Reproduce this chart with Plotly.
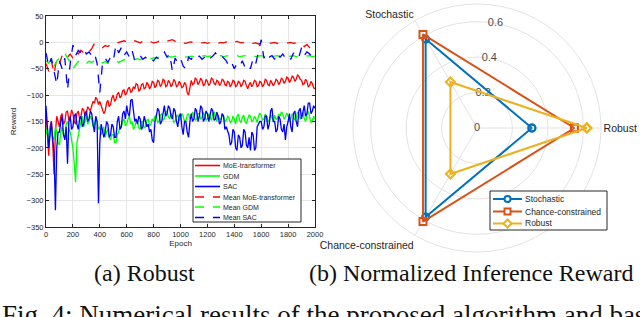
import plotly.graph_objects as go

# ---------------- data: left chart (Robust) ----------------
epochs_fine = list(range(0, 2001, 10))   # raw curves
epochs_mean = list(range(0, 2001, 20))   # mean curves

moe = [-130, -175, -215, -160, -150, -190, -250, -170, -140, -150,
       -160, -140, -135, -155, -150, -132, -130, -148, -145, -128,
       -135, -150, -155, -135, -130, -145, -140, -125, -128, -140,
       -135, -122, -125, -130, -120, -112, -115, -104, -108, -118,
       -112, -120, -125, -135, -130, -115, -110, -122, -118, -105,
       -100, -112, -108, -98, -95, -105, -102, -92, -90, -100,
       -96, -88, -85, -95, -92, -84, -88, -78, -80, -92,
       -90, -80, -78, -88, -86, -76, -80, -88, -84, -74,
       -76, -86, -82, -72, -74, -84, -80, -70, -72, -84,
       -82, -72, -76, -84, -80, -70, -74, -84, -82, -74,
       -78, -86, -84, -76, -80, -95, -100, -82, -72, -80,
       -78, -68, -70, -80, -76, -68, -72, -82, -80, -70,
       -74, -82, -78, -68, -70, -78, -80, -72, -74, -82,
       -78, -70, -72, -80, -82, -74, -76, -84, -80, -72,
       -74, -84, -82, -74, -76, -84, -80, -72, -74, -82,
       -88, -80, -76, -84, -80, -72, -74, -84, -82, -74,
       -76, -84, -80, -70, -72, -80, -82, -72, -76, -82,
       -78, -70, -72, -80, -76, -68, -70, -78, -74, -66,
       -68, -76, -72, -64, -66, -74, -70, -62, -64, -70,
       -72, -80, -78, -70, -74, -84, -82, -74, -78, -86,
       -88]

gdm = [-175, -160, -190, -170, -165, -180, -185, -160, -170, -190,
       -195, -170, -160, -175, -180, -155, -150, -165, -170, -185,
       -200, -230, -265, -190, -175, -160, -150, -140, -160, -150,
       -140, -155, -150, -140, -145, -160, -155, -145, -150, -165,
       -160, -175, -170, -160, -180, -170, -165, -180, -185, -175,
       -175, -190, -190, -175, -170, -160, -160, -150, -145, -158,
       -155, -145, -140, -155, -150, -165, -160, -150, -150, -162,
       -165, -150, -150, -162, -160, -148, -145, -158, -155, -145,
       -150, -140, -140, -152, -150, -138, -135, -148, -145, -132,
       -130, -142, -145, -135, -140, -152, -150, -140, -138, -148,
       -145, -135, -140, -150, -148, -138, -135, -145, -142, -132,
       -138, -148, -145, -135, -135, -146, -142, -132, -138, -148,
       -145, -135, -140, -148, -135, -132, -142, -150, -138, -146,
       -145, -136, -140, -150, -148, -140, -142, -152, -150, -140,
       -145, -155, -140, -136, -148, -152, -142, -138, -150, -154,
       -145, -138, -140, -150, -148, -140, -145, -152, -140, -134,
       -138, -148, -145, -136, -140, -150, -148, -138, -142, -150,
       -138, -146, -145, -136, -140, -132, -135, -146, -142, -134,
       -140, -150, -145, -136, -138, -148, -142, -132, -136, -146,
       -140, -132, -145, -150, -138, -130, -142, -152, -148, -140,
       -145]

sac = [-120, -165, -200, -175, -150, -185, -210, -318, -200, -170,
       -170, -150, -140, -175, -185, -160, -230, -150, -140, -165,
       -160, -140, -135, -155, -165, -145, -140, -160, -155, -135,
       -130, -150, -145, -130, -135, -155, -170, -140, -150, -305,
       -190, -155, -165, -180, -170, -150, -155, -180, -175, -155,
       -160, -180, -180, -150, -140, -165, -160, -135, -130, -145,
       -120, -135, -140, -110, -108, -130, -150, -145, -155, -140,
       -145, -165, -160, -140, -150, -160, -155, -170, -165, -185,
       -190, -150, -140, -125, -130, -155, -150, -130, -120, -140,
       -135, -120, -125, -140, -145, -125, -130, -150, -160, -140,
       -135, -160, -175, -150, -150, -170, -180, -150, -135, -150,
       -145, -125, -130, -150, -140, -120, -125, -150, -145, -130,
       -135, -150, -140, -125, -130, -148, -145, -132, -140, -155,
       -150, -135, -140, -165, -160, -170, -175, -195, -190, -165,
       -170, -200, -205, -175, -180, -200, -195, -165, -170, -195,
       -200, -180, -205, -170, -175, -205, -200, -160, -155, -150,
       -150, -165, -160, -140, -140, -165, -155, -130, -125, -150,
       -150, -170, -165, -140, -145, -165, -170, -155, -185, -160,
       -150, -135, -160, -170, -135, -130, -150, -160, -130, -125,
       -145, -130, -120, -140, -135, -115, -115, -135, -130, -120,
       -125]

mean_moe = [-40, -55, -35, -60, -30, -40, -25, -20, -28, -22,
            -30, -18, -22, -15, -20, -14, -18, -12, -2, -6,
            -8, -10, -6, -8, -4, -6, -2, 0, 2, 3,
            1, 2, 0, 3, 1, -1, 2, 0, -2, 1,
            -1, 0, 2, 0, 3, 2, 4, 5, 2, 0,
            -3, -1, -2, 0, 1, -1, 0, 1, -1, 0,
            -2, 0, 1, -1, -2, 0, -1, 1, -2, 0,
            1, 2, 0, -1, 1, 2, 0, -2, -1, -3,
            -2, -1, 0, -2, -1, 0, -2, 0, -1, -2,
            -1, 0, -2, -1, 0, -5, -8, -4, -10, -6, -8]

mean_gdm = [-35, -40, -30, -45, -35, -30, -25, -20, -30, -38,
            -50, -42, -36, -38, -35, -40, -36, -38, -35, -40,
            -37, -39, -36, -40, -38, -36, -34, -38, -35, -33,
            -34, -32, -34, -33, -31, -33, -30, -32, -30, -31,
            -29, -30, -28, -29, -27, -28, -27, -28, -26, -28,
            -27, -26, -28, -27, -26, -27, -25, -27, -26, -25,
            -27, -26, -25, -27, -26, -25, -27, -26, -25, -27,
            -26, -25, -27, -26, -25, -27, -26, -25, -27, -26,
            -25, -27, -26, -25, -27, -26, -25, -27, -26, -25,
            -27, -26, -25, -27, -26, -25, -27, -26, -25, -27, -26]

mean_sac = [-20, -45, -30, -55, -80, -35, -50, -30, -90, -40,
            -5, -25, -15, -20, -12, -22, -18, -25, -20, -40,
            -95, -40, -30, -38, -28, -35, -5, -20, -10, -25,
            -18, -28, -15, -35, -30, -25, -32, -28, -35, -30,
            -35, -28, -32, -25, -18, -28, -22, -55, -30, -38,
            -30, -45, -50, -28, -32, -25, -30, -26, -32, -28,
            -22, -30, -26, -20, -28, -24, -30, -35, -45, -38,
            -50, -40, -45, -35, -48, -42, -50, -30, -40, -20,
            5, -30, -20, -28, -25, -32, -20, -28, -22, -30,
            -25, -32, -20, -30, -28, -10, -25, -18, -22, -28, -30]

x_ticks = list(range(0, 2001, 200))
y_ticks = list(range(-350, 51, 50))

line_names = ["MoE-transformer", "GDM", "SAC",
              "Mean MoE-transformer", "Mean GDM", "Mean SAC"]

# ---------------- data: right chart (radar) ----------------
radar_labels = ["Robust", "Stochastic", "Chance-constrained"]
radar_theta = [0, 120, 240]
radar_names = ["Stochastic", "Chance-constrained", "Robust"]
val_stochastic = [0.31, 0.58, 0.58]
val_chance = [0.55, 0.61, 0.61]
val_robust = [0.62, 0.30, 0.30]
r_ticks = [0, 0.2, 0.4, 0.6]
r_tick_text = ["0", "0.2", "0.4", "0.6"]
r_label_angle = 80

# ---------------- helpers (pixel -> paper) ----------------
W, H = 640, 317
def X(px):
    return px / W
def Y(py):
    return 1 - py / H

fig = go.Figure()

line_series = [
    (epochs_fine, moe, "#ff0000", "solid"),
    (epochs_fine, gdm, "#00ff00", "solid"),
    (epochs_fine, sac, "#0000ff", "solid"),
    (epochs_mean, mean_moe, "#ff0000", "dash"),
    (epochs_mean, mean_gdm, "#00ff00", "dash"),
    (epochs_mean, mean_sac, "#0000ff", "dash"),
]
for name, (xs, ys, col, dash) in zip(line_names, line_series):
    fig.add_trace(go.Scatter(x=xs, y=ys, mode="lines", name=name,
                             line=dict(color=col, width=1.3, dash=dash),
                             showlegend=False, xaxis="x", yaxis="y"))

# radial tick labels (drawn through the polar scale, under the data lines)
fig.add_trace(go.Scatterpolar(r=r_ticks, theta=[r_label_angle] * len(r_ticks),
                              mode="text", text=r_tick_text, textposition="middle center",
                              textfont=dict(family="Liberation Sans, Arial", size=11, color="#4d4d4d"),
                              subplot="polar", showlegend=False, hoverinfo="skip"))

radar_colors = ["#0072BD", "#D95319", "#EDB120"]
radar_symbols = ["circle-open", "square-open", "diamond-open"]
for name, vals, col, sym in zip(radar_names, [val_stochastic, val_chance, val_robust],
                                radar_colors, radar_symbols):
    fig.add_trace(go.Scatterpolar(
        r=vals + [vals[0]], theta=radar_theta + [radar_theta[0]],
        mode="lines+markers", name=name, subplot="polar", showlegend=False,
        line=dict(color=col, width=2),
        marker=dict(symbol=sym, size=7, color=col, line=dict(color=col, width=2))))

tick_font = dict(family="Liberation Sans, Arial", size=7.5, color="#262626")

cx, cy, R = 477, 128, 124

fig.update_layout(
    width=W, height=H,
    margin=dict(l=0, r=0, t=0, b=0, autoexpand=False),
    paper_bgcolor="white", plot_bgcolor="white",
    showlegend=False,
    xaxis=dict(domain=[X(46), X(315)], range=[0, 2000], tickvals=x_ticks,
               automargin=False,
               showgrid=True, gridcolor="#e6e6e6", gridwidth=1, zeroline=False,
               showline=True, mirror="ticks", linecolor="#262626", linewidth=1,
               ticks="inside", ticklen=3, tickcolor="#262626", tickfont=tick_font,
               title=dict(text="Epoch", font=dict(family="Liberation Sans, Arial", size=8, color="#262626"),
                          standoff=2)),
    yaxis=dict(domain=[Y(227), Y(16)], range=[-350, 50], tickvals=y_ticks,
               automargin=False,
               showgrid=True, gridcolor="#e6e6e6", gridwidth=1, zeroline=False,
               showline=True, mirror="ticks", linecolor="#262626", linewidth=1,
               ticks="inside", ticklen=3, tickcolor="#262626", tickfont=tick_font,
               title=dict(text="Reward", font=dict(family="Liberation Sans, Arial", size=8, color="#262626"),
                          standoff=8)),
    polar=dict(
        domain=dict(x=[X(cx - R), X(cx + R)], y=[Y(cy + R), Y(cy - R)]),
        bgcolor="white",
        angularaxis=dict(rotation=0, direction="counterclockwise",
                         tickmode="array", tickvals=radar_theta, ticktext=radar_labels,
                         showgrid=True, gridcolor="#e3e3e3", gridwidth=1,
                         showline=True, linecolor="#e3e3e3", linewidth=1,
                         ticks="", tickfont=dict(family="Liberation Sans, Arial", size=10.5, color="#262626")),
        radialaxis=dict(range=[0, 0.7], tickvals=r_ticks, showticklabels=False,
                        angle=r_label_angle, showline=False, ticks="", layer="below traces",
                        showgrid=True, gridcolor="#e3e3e3", gridwidth=1),
    ),
)

shapes = []
annotations = []

# ---- left legend (custom, compact like the original) ----
shapes.append(dict(type="rect", xref="paper", yref="paper",
                   x0=X(193), x1=X(301), y0=Y(222), y1=Y(159),
                   line=dict(color="#262626", width=1), fillcolor="white", layer="above"))
leg_rows = [165.5, 176, 186.5, 197, 207, 217.5]
for name, (xs, ys, col, dash), py in zip(line_names, line_series, leg_rows):
    shapes.append(dict(type="line", xref="paper", yref="paper",
                       x0=X(195), x1=X(220), y0=Y(py), y1=Y(py),
                       line=dict(color=col, width=1.6, dash=dash), layer="above"))
    annotations.append(dict(text=name, xref="paper", yref="paper", x=X(221), y=Y(py),
                            xanchor="left", yanchor="middle", showarrow=False,
                            font=dict(family="Liberation Sans, Arial", size=7, color="#262626")))

# ---- radar legend (custom) ----
shapes.append(dict(type="rect", xref="paper", yref="paper",
                   x0=X(490), x1=X(607), y0=Y(230), y1=Y(191),
                   line=dict(color="#262626", width=1), fillcolor="white", layer="above"))
rrows = [199, 211.5, 223.5]
for name, col, sym, py in zip(radar_names, radar_colors, radar_symbols, rrows):
    shapes.append(dict(type="line", xref="paper", yref="paper",
                       x0=X(493), x1=X(522), y0=Y(py), y1=Y(py),
                       line=dict(color=col, width=2), layer="above"))
    mx, s = 507.5, 3
    if sym.startswith("circle"):
        shapes.append(dict(type="circle", xref="paper", yref="paper",
                           x0=X(mx - s), x1=X(mx + s), y0=Y(py + s), y1=Y(py - s),
                           line=dict(color=col, width=2), fillcolor="white", layer="above"))
    elif sym.startswith("square"):
        shapes.append(dict(type="rect", xref="paper", yref="paper",
                           x0=X(mx - s), x1=X(mx + s), y0=Y(py + s), y1=Y(py - s),
                           line=dict(color=col, width=2), fillcolor="white", layer="above"))
    else:
        d = 4
        path = (f"M {X(mx)} {Y(py - d)} L {X(mx + d)} {Y(py)} L {X(mx)} {Y(py + d)} "
                f"L {X(mx - d)} {Y(py)} Z")
        shapes.append(dict(type="path", xref="paper", yref="paper", path=path,
                           line=dict(color=col, width=2), fillcolor="white", layer="above"))
    annotations.append(dict(text=name, xref="paper", yref="paper", x=X(523), y=Y(py),
                            xanchor="left", yanchor="middle", showarrow=False,
                            font=dict(family="Liberation Sans, Arial", size=8.5, color="#262626")))

# ---- captions ----
cap_font = dict(family="Liberation Serif, Times New Roman", size=24, color="#111111")
annotations.append(dict(text="(a) Robust", xref="paper", yref="paper", x=X(144), y=Y(273),
                        xanchor="center", yanchor="middle", showarrow=False, font=cap_font))
annotations.append(dict(text="(b) Normalized Inference Reward", xref="paper", yref="paper",
                        x=X(471), y=Y(273), xanchor="center", yanchor="middle",
                        showarrow=False, font=cap_font))
annotations.append(dict(text="Fig. 4: Numerical results of the proposed algorithm and baselines",
                        xref="paper", yref="paper", x=X(0), y=Y(298), xanchor="left",
                        yanchor="top", showarrow=False,
                        font=dict(family="Liberation Serif, Times New Roman", size=27, color="#111111")))

fig.update_layout(shapes=shapes, annotations=annotations)

fig.write_html("out.html", config={"displayModeBar": False},
               post_script="document.body.style.margin='0px';")
